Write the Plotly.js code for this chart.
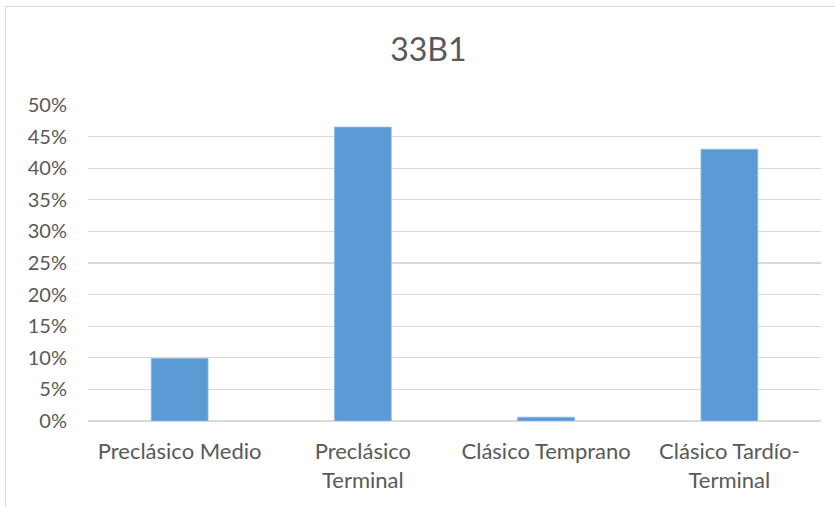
<!DOCTYPE html>
<html>
<head>
<meta charset="utf-8">
<script src="https://cdn.plot.ly/plotly-3.0.1.min.js"></script>
<style>
html,body{margin:0;padding:0;background:#fff;}
#chart{width:835px;height:507px;}
</style>
</head>
<body>
<div id="chart"></div>
<script>
const categories = ["Preclásico Medio", "Preclásico<br>Terminal", "Clásico Temprano", "Clásico Tardío-<br>Terminal"];
const values = [0.099, 0.465, 0.006, 0.430];
const yTickValues = [0, 0.05, 0.10, 0.15, 0.20, 0.25, 0.30, 0.35, 0.40, 0.45, 0.50];
const yTickLabels = ["0%", "5%", "10%", "15%", "20%", "25%", "30%", "35%", "40%", "45%", "50%"];
const chartTitle = "33B1";

const W = 835, H = 507;
const m = {l: 88, r: 14, t: 105, b: 86};
const pw = W - m.l - m.r, ph = H - m.t - m.b;
const px = x => (x - m.l) / pw;
const py = y => (H - m.b - y) / ph;

const trace = {
  type: 'bar',
  x: categories,
  y: values,
  width: 0.31,
  marker: {color: '#5b9bd5', line: {color: '#8fb9e3', width: 0.8}},
  hoverinfo: 'skip'
};

const layout = {
  width: W, height: H,
  margin: m,
  paper_bgcolor: '#ffffff',
  plot_bgcolor: '#ffffff',
  showlegend: false,
  font: {family: 'Lato, "Open Sans", sans-serif', color: '#595959'},
  title: {
    text: chartTitle,
    font: {size: 32, color: '#595959', family: 'Lato, sans-serif'},
    x: 0.513, xref: 'container', xanchor: 'center',
    y: 1 - 50 / H, yref: 'container', yanchor: 'middle'
  },
  xaxis: {
    type: 'category',
    showgrid: false,
    showline: false,
    zeroline: false,
    ticks: '',
    tickfont: {size: 22, color: '#595959'},
    ticklabelstandoff: 15,
    fixedrange: true
  },
  yaxis: {
    range: [0, 0.5],
    tickvals: yTickValues,
    ticktext: yTickLabels,
    showgrid: true,
    gridcolor: '#d9d9d9',
    gridwidth: 1.3,
    zeroline: true,
    zerolinecolor: '#d9d9d9',
    zerolinewidth: 1.3,
    showline: false,
    ticks: '',
    tickfont: {size: 20, color: '#595959'},
    ticklabelstandoff: 20,
    fixedrange: true
  },
  shapes: [
    {type: 'line', xref: 'paper', yref: 'paper', x0: px(5.5), x1: px(5.5), y0: py(6.5), y1: py(520), line: {color: '#d9d9d9', width: 1}},
    {type: 'line', xref: 'paper', yref: 'paper', x0: px(5.5), x1: px(850), y0: py(6.5), y1: py(6.5), line: {color: '#d9d9d9', width: 1}}
  ]
};

Plotly.newPlot('chart', [trace], layout, {displayModeBar: false, staticPlot: true});
</script>
</body>
</html>
